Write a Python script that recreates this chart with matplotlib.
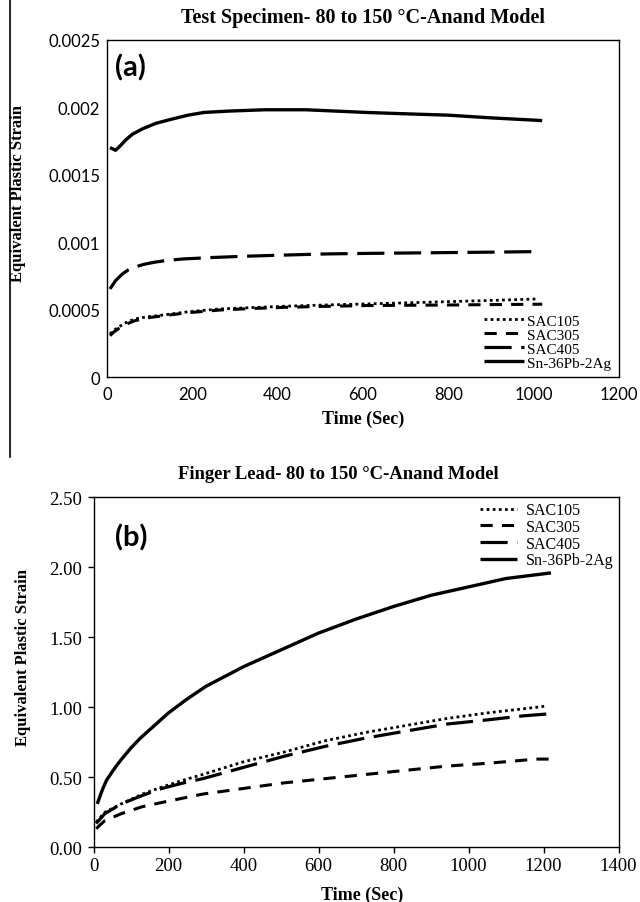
"""Equivalent plastic strain vs time, test specimen (a) and finger lead (b)."""
import matplotlib
matplotlib.use("Agg")
import matplotlib.pyplot as plt
from matplotlib.lines import Line2D

SERIF = "Liberation Serif"
SANS = "Lato"

LABELS = ["SAC105", "SAC305", "SAC405", "Sn-36Pb-2Ag"]

# --- panel (a): test specimen ---
a_t_105 = [7, 15, 26, 45, 65, 95, 132, 190, 265, 340, 418, 510, 609, 700, 800, 900, 1010]
a_105 = [0.000321, 0.000345, 0.00037, 0.000405, 0.000432, 0.000448, 0.000461, 0.000485,
         0.000506, 0.000516, 0.000526, 0.000535, 0.000543, 0.000551, 0.00056, 0.000569, 0.00058]
a_t_305 = [7, 15, 26, 45, 65, 95, 132, 190, 265, 340, 418, 510, 609, 700, 800, 900, 1020]
a_305 = [0.000308, 0.000333, 0.000358, 0.000393, 0.000419, 0.000440, 0.000456, 0.000478,
         0.000498, 0.000509, 0.000518, 0.000525, 0.000531, 0.000533, 0.000535, 0.000538, 0.000541]
a_t_405 = [7, 20, 36, 50, 65, 85, 112, 140, 179, 250, 323, 420, 513, 610, 704, 800, 895, 1000]
a_405 = [0.000654, 0.000715, 0.000765, 0.000795, 0.000815, 0.000835, 0.000852, 0.000865,
         0.000876, 0.000887, 0.000896, 0.000905, 0.000913, 0.000917, 0.00092, 0.000923,
         0.000926, 0.00093]
a_t_sn = [7, 20, 30, 45, 60, 84, 115, 151, 190, 227, 284, 370, 466, 609, 700, 800, 900, 1020]
a_sn = [0.00170, 0.00168, 0.00171, 0.00176, 0.00180, 0.00184, 0.00188, 0.00191, 0.00194,
        0.00196, 0.00197, 0.00198, 0.00198, 0.00196, 0.00195, 0.00194, 0.00192, 0.00190]

# --- panel (b): finger lead ---
b_t_105 = [7, 30, 74, 130, 182, 240, 291, 399, 508, 616, 725, 833, 942, 1050, 1181, 1210]
b_105 = [0.18, 0.25, 0.31, 0.38, 0.43, 0.48, 0.52, 0.61, 0.68, 0.76, 0.82, 0.87, 0.92, 0.96, 1.0, 1.01]
b_t_305 = [7, 30, 74, 130, 182, 291, 399, 508, 616, 725, 833, 942, 1050, 1181, 1215]
b_305 = [0.133, 0.19, 0.24, 0.29, 0.32, 0.38, 0.42, 0.46, 0.49, 0.52, 0.55, 0.58, 0.60, 0.63, 0.63]
b_t_405 = [7, 30, 74, 130, 182, 240, 291, 399, 508, 616, 725, 833, 942, 1050, 1150, 1224]
b_405 = [0.17, 0.24, 0.31, 0.37, 0.42, 0.46, 0.49, 0.57, 0.65, 0.72, 0.78, 0.83, 0.88, 0.91, 0.94, 0.955]
b_t_sn = [10, 18, 25, 35, 50, 62, 75, 100, 125, 150, 200, 250, 300, 400, 500, 600, 700, 800,
          900, 1000, 1100, 1220]
b_sn = [0.31, 0.37, 0.42, 0.48, 0.54, 0.585, 0.63, 0.71, 0.78, 0.84, 0.96, 1.06, 1.15, 1.29,
        1.41, 1.53, 1.63, 1.72, 1.80, 1.86, 1.92, 1.96]

STYLES = [
    dict(ls=(0, (1, 1.2)), lw=2.0),   # SAC105 dotted
    dict(ls=(0, (4, 3)), lw=2.2),     # SAC305 short dash
    dict(ls=(0, (8.5, 3)), lw=2.3),   # SAC405 long dash
    dict(ls="-", lw=2.4),             # Sn-36Pb-2Ag solid
]


def style_box(ax):
    for sp in ax.spines.values():
        sp.set_linewidth(1.0)
        sp.set_color("black")


fig = plt.figure(figsize=(6.4, 9.03), dpi=100)

# ---------------- (a) ----------------
ax1 = fig.add_axes([107 / 640, 1 - 378.3 / 903, 512 / 640, 337.8 / 903])
series_a = [(a_t_105, a_105), (a_t_305, a_305), (a_t_405, a_405), (a_t_sn, a_sn)]
for (t, v), st, lab in zip(series_a, STYLES, LABELS):
    ax1.plot(t, v, color="black", label=lab, solid_capstyle="butt", dash_capstyle="butt", **st)
ax1.set_xlim(0, 1200)
ax1.set_ylim(0, 0.0025)
ax1.set_xticks(range(0, 1201, 200))
ax1.set_yticks([0, 0.0005, 0.001, 0.0015, 0.002, 0.0025])
ax1.set_yticklabels(["0", "0.0005", "0.001", "0.0015", "0.002", "0.0025"])
ax1.tick_params(length=0, labelsize=12)
ax1.tick_params(axis="x", pad=6)
ax1.tick_params(axis="y", pad=5)
for lab in ax1.get_xticklabels() + ax1.get_yticklabels():
    lab.set_fontfamily(SANS)
style_box(ax1)
ax1.legend(loc="lower right", frameon=False, prop={"family": SERIF, "size": 11},
           handlelength=2.6, handletextpad=0.25, labelspacing=0.02,
           borderaxespad=0.4, borderpad=0.1)
ax1.text(0.016, 0.918, "(a)", transform=ax1.transAxes, fontsize=21, fontweight="bold",
         family=SANS, va="center", ha="left")

fig.text(363 / 640, 1 - 18 / 903, "Test Specimen- 80 to 150 \u00b0C-Anand Model",
         ha="center", va="center", family=SERIF, fontweight="bold", fontsize=14.5)
fig.text(363 / 640, 1 - 419 / 903, "Time (Sec)", ha="center", va="center",
         family=SERIF, fontweight="bold", fontsize=13)
fig.text(18 / 640, 1 - 193 / 903, "Equivalent Plastic Strain", rotation=90,
         ha="center", va="center", family=SERIF, fontweight="bold", fontsize=12)

# ---------------- (b) ----------------
ax2 = fig.add_axes([93.5 / 640, 1 - 848.3 / 903, 525 / 640, 350 / 903])
series_b = [(b_t_105, b_105), (b_t_305, b_305), (b_t_405, b_405), (b_t_sn, b_sn)]
for (t, v), st, lab in zip(series_b, STYLES, LABELS):
    ax2.plot(t, v, color="black", label=lab, solid_capstyle="butt", dash_capstyle="butt", **st)
ax2.set_xlim(0, 1400)
ax2.set_ylim(0, 2.5)
ax2.set_xticks(range(0, 1401, 200))
ax2.set_yticks([0, 0.5, 1.0, 1.5, 2.0, 2.5])
ax2.set_yticklabels(["0.00", "0.50", "1.00", "1.50", "2.00", "2.50"])
ax2.tick_params(length=4, width=1, labelsize=13.5)
ax2.tick_params(axis="x", pad=3)
ax2.tick_params(axis="y", pad=4)
for lab in ax2.get_xticklabels() + ax2.get_yticklabels():
    lab.set_fontfamily(SERIF)
style_box(ax2)
ax2.legend(loc="upper right", frameon=False, prop={"family": SERIF, "size": 11.5},
           handlelength=2.3, handletextpad=0.6, labelspacing=0.05,
           borderaxespad=0.1, borderpad=0.2)
ax2.text(0.04, 0.887, "(b)", transform=ax2.transAxes, fontsize=21, fontweight="bold",
         family=SANS, va="center", ha="left")

fig.text(338 / 640, 1 - 475 / 903, "Finger Lead- 80 to 150 \u00b0C-Anand Model",
         ha="center", va="center", family=SERIF, fontweight="bold", fontsize=13.4)
fig.text(362 / 640, 1 - 895 / 903, "Time (Sec)", ha="center", va="center",
         family=SERIF, fontweight="bold", fontsize=13)
fig.text(23 / 640, 1 - 658 / 903, "Equivalent Plastic Strain", rotation=90,
         ha="center", va="center", family=SERIF, fontweight="bold", fontsize=12)

# left border line left over from the source figure
fig.add_artist(Line2D([10 / 640, 10 / 640], [1.0, 1 - 458 / 903], color="black", lw=1.2))

fig.savefig("out.png", dpi=100)
plt.close(fig)
